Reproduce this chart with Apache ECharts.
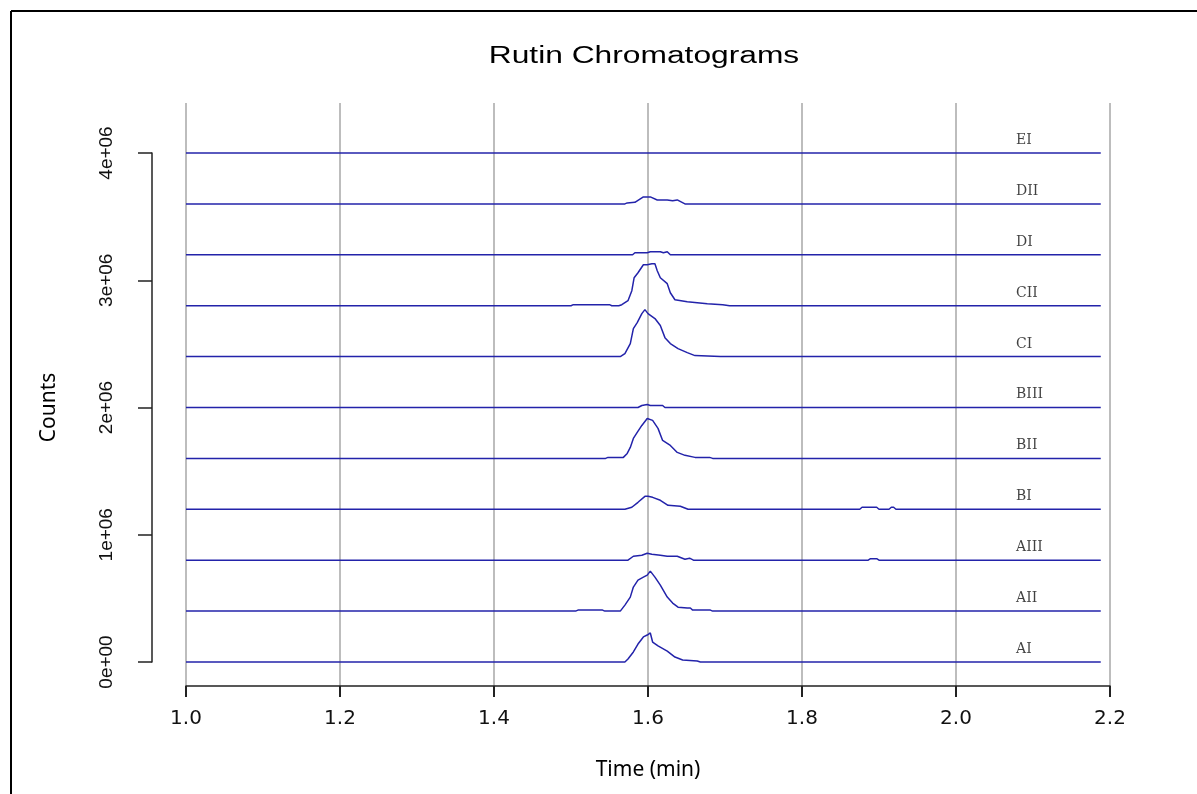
<!DOCTYPE html>
<html>
<head>
<meta charset="utf-8">
<script src="https://cdn.jsdelivr.net/npm/echarts@6.0.0/dist/echarts.min.js"></script>
<style>
  html, body { margin: 0; padding: 0; background: #fff; }
  #main { width: 1197px; height: 794px; }
</style>
</head>
<body>
<div id="main"></div>
<script>
// sample names, bottom to top, and their vertical offsets (counts)
var names = ['AI', 'AII', 'AIII', 'BI', 'BII', 'BIII', 'CI', 'CII', 'DI', 'DII', 'EI'];
var offsets = [0, 4e5, 8e5, 12e5, 16e5, 20e5, 24e5, 28e5, 32e5, 36e5, 40e5];

// peak region of each trace: [time (min), counts above its baseline]
var traceAI = [[1.570,0],[1.574,24e3],[1.581,79e3],[1.587,141e3],[1.594,197e3],[1.599,212e3],[1.603,228e3],[1.606,157e3],[1.613,126e3],[1.625,86e3],[1.635,39e3],[1.645,16e3],[1.664,8e3],[1.668,0]];
var traceAII = [[1.506,0],[1.509,8e3],[1.541,8e3],[1.544,0],[1.564,0],[1.570,47e3],[1.577,110e3],[1.581,189e3],[1.587,244e3],[1.594,267e3],[1.599,283e3],[1.603,314e3],[1.609,267e3],[1.616,204e3],[1.625,110e3],[1.632,63e3],[1.639,31e3],[1.651,24e3],[1.655,24e3],[1.658,8e3],[1.681,8e3],[1.684,0]];
var traceAIII = [[1.574,0],[1.581,31e3],[1.592,39e3],[1.599,55e3],[1.605,47e3],[1.616,39e3],[1.625,31e3],[1.631,31e3],[1.638,31e3],[1.648,8e3],[1.654,16e3],[1.659,0],[1.886,0],[1.889,12e3],[1.897,12e3],[1.900,0]];
var traceBI = [[1.570,0],[1.579,16e3],[1.587,55e3],[1.596,102e3],[1.600,102e3],[1.606,94e3],[1.616,71e3],[1.626,31e3],[1.642,24e3],[1.652,0],[1.875,0],[1.878,16e3],[1.897,16e3],[1.900,0],[1.913,0],[1.916,16e3],[1.919,16e3],[1.922,0]];
var traceBII = [[1.545,0],[1.548,8e3],[1.568,8e3],[1.573,39e3],[1.577,86e3],[1.581,157e3],[1.586,204e3],[1.592,259e3],[1.599,314e3],[1.601,322e3],[1.606,299e3],[1.613,236e3],[1.619,141e3],[1.629,102e3],[1.638,47e3],[1.648,24e3],[1.661,8e3],[1.680,8e3],[1.684,0]];
var traceBIII = [[1.587,0],[1.592,16e3],[1.599,24e3],[1.603,16e3],[1.619,16e3],[1.622,0]];
var traceCI = [[1.564,0],[1.570,24e3],[1.577,102e3],[1.581,220e3],[1.586,267e3],[1.592,338e3],[1.596,369e3],[1.600,338e3],[1.609,299e3],[1.616,244e3],[1.622,149e3],[1.629,102e3],[1.639,63e3],[1.651,31e3],[1.661,8e3],[1.694,0]];
var traceCII = [[1.500,0],[1.503,8e3],[1.550,8e3],[1.553,0],[1.562,0],[1.566,8e3],[1.574,39e3],[1.579,118e3],[1.582,220e3],[1.587,259e3],[1.594,322e3],[1.599,322e3],[1.605,330e3],[1.609,330e3],[1.612,275e3],[1.616,220e3],[1.625,173e3],[1.629,102e3],[1.635,47e3],[1.651,31e3],[1.664,24e3],[1.677,16e3],[1.697,8e3],[1.706,0]];
var traceDI = [[1.580,0],[1.583,16e3],[1.599,16e3],[1.603,24e3],[1.616,24e3],[1.620,16e3],[1.625,24e3],[1.629,0]];
var traceDII = [[1.570,0],[1.573,8e3],[1.583,12e3],[1.594,55e3],[1.603,55e3],[1.612,31e3],[1.625,31e3],[1.632,24e3],[1.638,31e3],[1.648,0]];
var traceEI = [];
var traces = [traceAI, traceAII, traceAIII, traceBI, traceBII, traceBIII, traceCI, traceCII, traceDI, traceDII, traceEI];

var timeStart = 1.0, timeEnd = 2.188;
var xTickLabels = ['1.0', '1.2', '1.4', '1.6', '1.8', '2.0', '2.2'];
var yTickLabels = ['0e+00', '1e+06', '2e+06', '3e+06', '4e+06'];

var lineColor = '#2323aa';
var series = [];
traces.forEach(function (tr, i) {
  var off = offsets[i];
  var data = [[timeStart, off]];
  tr.forEach(function (p) { data.push([p[0], off + p[1]]); });
  data.push([timeEnd, off]);
  series.push({
    type: 'line', xAxisIndex: 0, yAxisIndex: 0, data: data,
    showSymbol: false, silent: true,
    lineStyle: { color: lineColor, width: 1.5 }
  });
});

// sample labels at the right end of each trace
series.push({
  type: 'scatter', xAxisIndex: 0, yAxisIndex: 0, symbolSize: 0, silent: true,
  data: names.map(function (n, i) { return { name: n, value: [2.078, offsets[i] + 1.0e5] }; }),
  label: {
    show: true, position: 'right', distance: 0, formatter: '{b}',
    fontFamily: 'DejaVu Serif', fontSize: 14, color: '#111'
  }
});

var chart = echarts.init(document.getElementById('main'));
chart.setOption({
  animation: false,
  backgroundColor: '#fff',
  graphic: [
    { type: 'line', shape: { x1: 11, y1: 11, x2: 1197, y2: 11 }, style: { stroke: '#000', lineWidth: 2 } },
    { type: 'line', shape: { x1: 11, y1: 11, x2: 11, y2: 794 }, style: { stroke: '#000', lineWidth: 2 } },
    {
      type: 'text', x: 644, y: 57, scaleX: 1.38,
      style: { text: 'Rutin Chromatograms', fontFamily: 'Liberation Sans', fontSize: 23, fill: '#000', textAlign: 'center', textVerticalAlign: 'middle' }
    }
  ],
  grid: [
    { left: 186, right: 87, top: 103, bottom: 108 },
    { left: 152, width: 1, top: 153, bottom: 132 }
  ],
  xAxis: [
    {
      type: 'value', gridIndex: 0, min: 1.0, max: 2.2, interval: 0.2,
      name: 'Time (min)', nameLocation: 'middle', nameGap: 74,
      nameTextStyle: { fontFamily: 'Noto Sans', fontSize: 21, color: '#000' },
      axisLine: { show: true, onZero: false, lineStyle: { color: '#222', width: 1.5 } },
      axisTick: { show: true, length: 11, lineStyle: { color: '#222', width: 2 } },
      axisLabel: {
        margin: 23, fontFamily: 'DejaVu Sans', fontSize: 20, color: '#111',
        formatter: function (v, idx) { return xTickLabels[idx]; }
      },
      splitLine: { show: true, lineStyle: { color: '#bdbdbd', width: 2 } }
    },
    { type: 'value', gridIndex: 1, show: false, min: 0, max: 1 }
  ],
  yAxis: [
    { type: 'value', gridIndex: 0, show: false, min: -188600, max: 4392900, splitLine: { show: false } },
    {
      type: 'value', gridIndex: 1, min: 0, max: 4e6, interval: 1e6,
      name: 'Counts', nameLocation: 'middle', nameGap: 92, nameRotate: 90,
      nameTextStyle: { fontFamily: 'Noto Sans', fontSize: 21, color: '#000' },
      axisLine: { show: true, lineStyle: { color: '#222', width: 1.5 } },
      axisTick: { show: true, length: 14, lineStyle: { color: '#222', width: 1.5 } },
      axisLabel: {
        rotate: 90, margin: 36, fontFamily: 'Liberation Sans', fontSize: 19, color: '#111',
        formatter: function (v, idx) { return yTickLabels[idx]; }
      },
      splitLine: { show: false }
    }
  ],
  series: series
});
</script>
</body>
</html>
